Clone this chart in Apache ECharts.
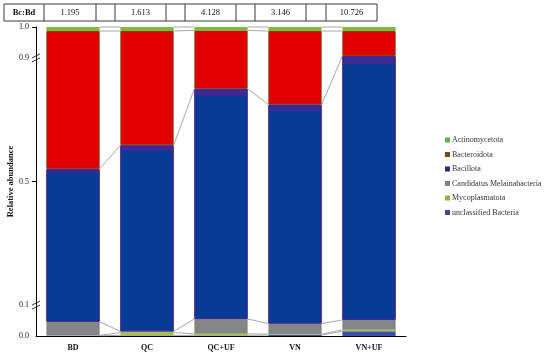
<!DOCTYPE html>
<html>
<head>
<meta charset="utf-8">
<script src="https://cdn.jsdelivr.net/npm/echarts@6/dist/echarts.min.js"></script>
<style>html,body{margin:0;padding:0;background:#fff}#c{width:550px;height:355px}</style>
</head>
<body>
<div id="c"></div>
<script>
// ---- data ----
const categories = ['BD', 'QC', 'QC+UF', 'VN', 'VN+UF'];
const ratioTitle = 'Bc:Bd';
const ratioLabels = ['1.195', '1.613', '4.128', '3.146', '10.726'];
const unclassifiedBacteria = [0.001, 0.002, 0.002, 0.003, 0.015];
const mycoplasmatota = [0.001, 0.009, 0.005, 0.003, 0.005];
const candidatusMelainabacteria = [0.044, 0.004, 0.048, 0.034, 0.032];
const bacillota = [0.495, 0.602, 0.745, 0.709, 0.854];
const bacteroidota = [0.446, 0.370, 0.189, 0.238, 0.081];
const actinomycetota = [0.013, 0.013, 0.011, 0.013, 0.013];
const yTickLabels = [0, 0.1, 0.5, 0.9, 1.0];
const yBreaks = [0.1, 0.9];

// ---- chart ----
const FONT = 'Liberation Serif';
const chart = echarts.init(document.getElementById('c'), null, {renderer: 'canvas'});

const stackOrder = [
  {name: 'unclassified Bacteria', data: unclassifiedBacteria, color: '#3d4fae', legend: '#3d4aa0'},
  {name: 'Mycoplasmatota', data: mycoplasmatota, color: '#a6c43a', legend: '#a8a83a'},
  {name: 'Candidatus Melainabacteria', data: candidatusMelainabacteria, color: '#858585', legend: '#808080'},
  {name: 'Bacillota', data: bacillota,
   color: {type: 'linear', x: 0, y: 0, x2: 0, y2: 1, colorStops: [
     {offset: 0, color: '#3c2a94'}, {offset: 0.03, color: '#3c2a94'},
     {offset: 0.03, color: '#073b96'}, {offset: 1, color: '#073b96'}]},
   border: '#3c2a94', legend: '#2b2a86'},
  {name: 'Bacteroidota', data: bacteroidota, color: '#e00000', border: '#8a3a0c', legend: '#7b4a12'},
  {name: 'Actinomycetota', data: actinomycetota, color: '#80bc3c', legend: '#6aa84f'}
];
const legendOrder = ['Actinomycetota', 'Bacteroidota', 'Bacillota', 'Candidatus Melainabacteria', 'Mycoplasmatota', 'unclassified Bacteria'];

// cumulative boundaries for connector lines
const cum = [];
let run = categories.map(() => 0);
stackOrder.forEach(s => {
  run = run.map((v, i) => v + s.data[i]);
  cum.push(run.slice());
});

const BAR_FRAC = 0.72;

const barSeries = stackOrder.map(s => ({
  name: s.name,
  type: 'bar',
  stack: 'total',
  barCategoryGap: '28%',
  data: s.data,
  itemStyle: {color: s.color, borderColor: s.border || 'transparent', borderWidth: s.border ? 1 : 0},
  emphasis: {disabled: true},
  z: 3
}));

const connector = {
  type: 'custom',
  name: 'connectors',
  data: [[0, 0], [1, 0], [2, 0], [3, 0]],
  encode: {x: 0, y: 1},
  silent: true,
  z: 2,
  renderItem: function (params, api) {
    const i = api.value(0);
    const bw = api.size([1, 0])[0] * BAR_FRAC;
    const x0 = api.coord([i, 0])[0] + bw / 2;
    const x1 = api.coord([i + 1, 0])[0] - bw / 2;
    const children = cum.map(c => ({
      type: 'line',
      shape: {x1: x0, y1: api.coord([i, c[i]])[1], x2: x1, y2: api.coord([i + 1, c[i + 1]])[1]},
      style: {stroke: '#a8a8a8', lineWidth: 1}
    }));
    return {type: 'group', children: children};
  }
};

chart.setOption({
  animation: false,
  backgroundColor: '#fff',
  grid: {left: 36, right: 144, top: 27, bottom: 19, containLabel: false, outerBoundsMode: 'none'},
  legend: {
    orient: 'vertical', left: 440, top: 131,
    itemWidth: 5, itemHeight: 5, itemGap: 6.5,
    icon: 'rect',
    textStyle: {fontFamily: FONT, fontSize: 8, color: '#333', lineHeight: 8, padding: [0, 0, 0, -3]},
    data: legendOrder.map(n => {
      const s = stackOrder.find(t => t.name === n);
      return {name: n, itemStyle: {color: s.legend, borderWidth: 0}};
    }),
    selectedMode: false
  },
  xAxis: {
    type: 'category', data: categories,
    axisLine: {lineStyle: {color: '#000', width: 1}},
    axisTick: {show: false},
    axisLabel: {fontFamily: FONT, fontSize: 8, fontWeight: 'bold', color: '#111', margin: 8}
  },
  yAxis: {
    type: 'value', min: 0, max: 1, interval: 0.1,
    name: 'Relative abundance', nameLocation: 'middle', nameGap: 21, nameMoveOverlap: false,
    nameTextStyle: {fontFamily: FONT, fontSize: 8.5, fontWeight: 'bold', color: '#111'},
    axisLine: {show: true, lineStyle: {color: '#000', width: 1}},
    axisTick: {show: true, length: 4, customValues: [0.5, 1.0], lineStyle: {color: '#000'}},
    axisLabel: {fontFamily: FONT, fontSize: 8, color: '#111', margin: 7,
      customValues: yTickLabels, formatter: v => v.toFixed(1)},
    splitLine: {show: false}
  },
  series: barSeries.concat([connector])
});

// ---- table and axis break marks ----
const graphics = [];
const tableEdges = [4, 44, 96, 115, 166, 185, 236, 255, 306, 326, 377];
const tTop = 4, tH = 17;
graphics.push({type: 'rect', shape: {x: tableEdges[0], y: tTop, width: tableEdges[tableEdges.length - 1] - tableEdges[0], height: tH},
  style: {fill: '#fff', stroke: '#3a3a3a', lineWidth: 1}});
for (let k = 1; k < tableEdges.length - 1; k++) {
  graphics.push({type: 'line', shape: {x1: tableEdges[k], y1: tTop, x2: tableEdges[k], y2: tTop + tH},
    style: {stroke: '#3a3a3a', lineWidth: 1}});
}
const cellText = (k, txt, bold) => ({
  type: 'text',
  x: (tableEdges[k] + tableEdges[k + 1]) / 2, y: tTop + tH / 2,
  style: {text: txt, fontFamily: FONT, fontSize: 8.5, fontWeight: bold ? 'bold' : 'normal',
    fill: '#111', align: 'center', verticalAlign: 'middle'}
});
graphics.push(cellText(0, ratioTitle, true));
ratioLabels.forEach((t, j) => graphics.push(cellText(1 + 2 * j, t, false)));

const axisX = chart.convertToPixel({xAxisIndex: 0}, 0) - (chart.convertToPixel({xAxisIndex: 0}, 1) - chart.convertToPixel({xAxisIndex: 0}, 0)) / 2;
yBreaks.forEach(v => {
  const y = chart.convertToPixel({yAxisIndex: 0}, v);
  graphics.push({type: 'rect', shape: {x: axisX - 1.5, y: y - 2, width: 3, height: 4}, style: {fill: '#fff'}});
  [-2, 2].forEach(d => graphics.push({type: 'line',
    shape: {x1: axisX - 4, y1: y + d + 2, x2: axisX + 4, y2: y + d - 2},
    style: {stroke: '#000', lineWidth: 0.8}}));
});
chart.setOption({graphic: graphics});
</script>
</body>
</html>
